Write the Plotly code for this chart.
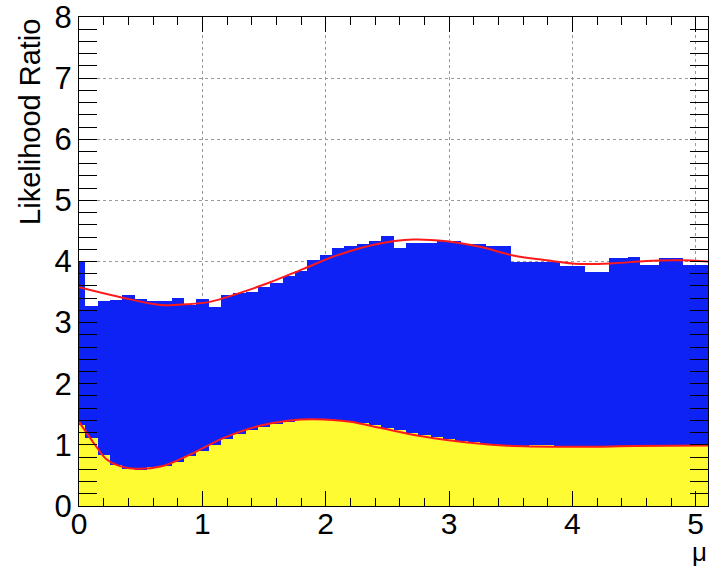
import plotly.graph_objects as go

# ---------------- data ----------------
# upper (blue) histogram: bin edges and heights
blue_edges = [0.0, 0.05, 0.15, 0.25, 0.35, 0.45, 0.55, 0.65, 0.75, 0.85, 0.95,
              1.05, 1.15, 1.25, 1.35, 1.45, 1.55, 1.65, 1.75, 1.85, 1.95,
              2.05, 2.15, 2.25, 2.35, 2.45, 2.55, 2.65, 2.9, 3.1, 3.3, 3.5,
              3.7, 3.9, 4.1, 4.3, 4.45, 4.55, 4.7, 4.9, 5.1]
blue_vals = [4.00, 3.27, 3.36, 3.37, 3.46, 3.39, 3.36, 3.36, 3.40, 3.29, 3.39,
             3.25, 3.46, 3.49, 3.50, 3.58, 3.65, 3.76, 3.84, 4.02, 4.10,
             4.22, 4.26, 4.28, 4.33, 4.41, 4.22, 4.30, 4.34, 4.29, 4.26,
             3.99, 4.00, 3.92, 3.83, 4.06, 4.08, 3.94, 4.05, 3.95]

# lower (yellow) histogram
yellow_edges = [0.0, 0.05, 0.15, 0.25, 0.35, 0.45, 0.55, 0.65, 0.75, 0.85, 0.95,
                1.05, 1.15, 1.25, 1.35, 1.45, 1.55, 1.65, 1.75, 1.85, 1.95,
                2.05, 2.15, 2.25, 2.35, 2.45, 2.55, 2.65, 2.75, 2.85, 2.95,
                3.05, 3.15, 3.25, 3.35, 3.45, 3.55, 3.65, 3.75, 3.85, 3.95,
                4.05, 4.15, 4.25, 4.35, 4.45, 4.55, 4.65, 4.75, 4.85, 4.95,
                5.05, 5.1]
yellow_vals = [1.33, 1.12, 0.83, 0.67, 0.60, 0.59, 0.63, 0.65, 0.72, 0.81,
               0.90, 1.00, 1.10, 1.18, 1.25, 1.30, 1.34, 1.38, 1.40, 1.41,
               1.41, 1.40, 1.38, 1.36, 1.32, 1.28, 1.24, 1.19, 1.16, 1.13,
               1.09, 1.06, 1.04, 1.02, 1.00, 0.98, 0.98, 0.99, 0.99, 0.96,
               0.96, 0.96, 0.96, 0.98, 0.98, 0.98, 0.98, 0.98, 0.98, 0.99,
               0.99, 0.99]

# fitted curves (red)
upper_fit_x = [0.0, 0.33, 0.66, 0.87, 1.06, 1.28, 1.55, 1.82, 2.09, 2.4,
               2.71, 2.98, 3.25, 3.52, 3.79, 4.06, 4.33, 4.6, 4.87, 5.1]
upper_fit_y = [3.58, 3.42, 3.29, 3.30, 3.34, 3.47, 3.66, 3.88, 4.10, 4.28,
               4.36, 4.33, 4.24, 4.10, 4.02, 3.96, 3.97, 4.01, 4.02, 4.00]
lower_fit_x = [0.0, 0.06, 0.13, 0.22, 0.32, 0.45, 0.67, 0.9, 1.17, 1.44,
               1.71, 1.9, 2.2, 2.44, 2.78, 2.98, 3.44, 3.98, 4.5, 5.1]
lower_fit_y = [1.38, 1.20, 1.00, 0.77, 0.66, 0.61, 0.65, 0.84, 1.11, 1.30,
               1.40, 1.42, 1.38, 1.28, 1.14, 1.08, 0.99, 0.97, 0.98, 0.99]

x_tick_vals = [0, 1, 2, 3, 4, 5]
y_tick_vals = [0, 1, 2, 3, 4, 5, 6, 7, 8]
x_title = "μ"
y_title = "Likelihood Ratio"

# ---------------- figure ----------------
def centers_widths(edges):
    c = [(a + b) / 2 for a, b in zip(edges[:-1], edges[1:])]
    w = [b - a for a, b in zip(edges[:-1], edges[1:])]
    return c, w

BLUE = "#0f22f5"
YELLOW = "#fffb33"
RED = "#ff1a1a"
FONT = "Liberation Sans, Arial, sans-serif"

bc, bw = centers_widths(blue_edges)
yc, yw = centers_widths(yellow_edges)

fig = go.Figure()
fig.add_trace(go.Bar(x=bc, y=blue_vals, width=bw, base=0,
                     marker=dict(color=BLUE, line=dict(width=0)),
                     showlegend=False, hoverinfo="skip"))
fig.add_trace(go.Bar(x=yc, y=yellow_vals, width=yw, base=0,
                     marker=dict(color=YELLOW, line=dict(width=0)),
                     showlegend=False, hoverinfo="skip"))
fig.add_trace(go.Scatter(x=lower_fit_x, y=lower_fit_y, mode="lines",
                         line=dict(color=RED, width=2, shape="spline"),
                         showlegend=False, hoverinfo="skip"))
fig.add_trace(go.Scatter(x=upper_fit_x, y=upper_fit_y, mode="lines",
                         line=dict(color=RED, width=2, shape="spline"),
                         xaxis="x2", yaxis="y",
                         showlegend=False, hoverinfo="skip"))

grid = dict(showgrid=True, gridcolor="#9a9a9a", griddash="dot", gridwidth=1)

fig.update_layout(
    width=709, height=568,
    margin=dict(l=79, r=1, t=17, b=62),
    paper_bgcolor="white", plot_bgcolor="white",
    barmode="overlay", bargap=0,
    font=dict(family=FONT, color="black"),
    xaxis=dict(range=[0, 5.1], tickvals=x_tick_vals, ticks="",
               showline=True, linecolor="black", linewidth=1, mirror=True,
               zeroline=False, tickfont=dict(size=30, family=FONT),
               ticklabelstandoff=-9, ticklabeloverflow="allow",
               **grid),
    xaxis2=dict(range=[0, 5.1], overlaying="x", side="top", anchor="y",
                tickvals=x_tick_vals, ticks="inside", ticklen=15,
                tickcolor="black", showticklabels=False, showgrid=False,
                showline=False, zeroline=False, mirror="allticks",
                minor=dict(dtick=0.2, tick0=0, ticks="inside", ticklen=8,
                           tickcolor="black", showgrid=False)),
    yaxis=dict(range=[0, 8.0005], tickvals=y_tick_vals, ticks="inside", ticklen=18,
               tickcolor="black", showline=True, linecolor="black", linewidth=1,
               mirror="allticks", zeroline=False,
               tickfont=dict(size=31, family=FONT),
               ticklabeloverflow="allow",
               minor=dict(dtick=0.2, tick0=0, ticks="inside", ticklen=10,
                          tickcolor="black", showgrid=False),
               **grid),
    annotations=[
        dict(text=y_title, xref="paper", yref="paper", x=-0.078, y=1.0,
             xanchor="center", yanchor="top", textangle=-90, showarrow=False,
             font=dict(size=29, family=FONT, color="black")),
        dict(text=x_title, xref="paper", yref="paper", x=1.0, y=-0.126,
             xanchor="right", yanchor="bottom", showarrow=False,
             borderpad=0,
             font=dict(size=26, family=FONT, color="black")),
    ],
)

fig.write_html("out.html")
